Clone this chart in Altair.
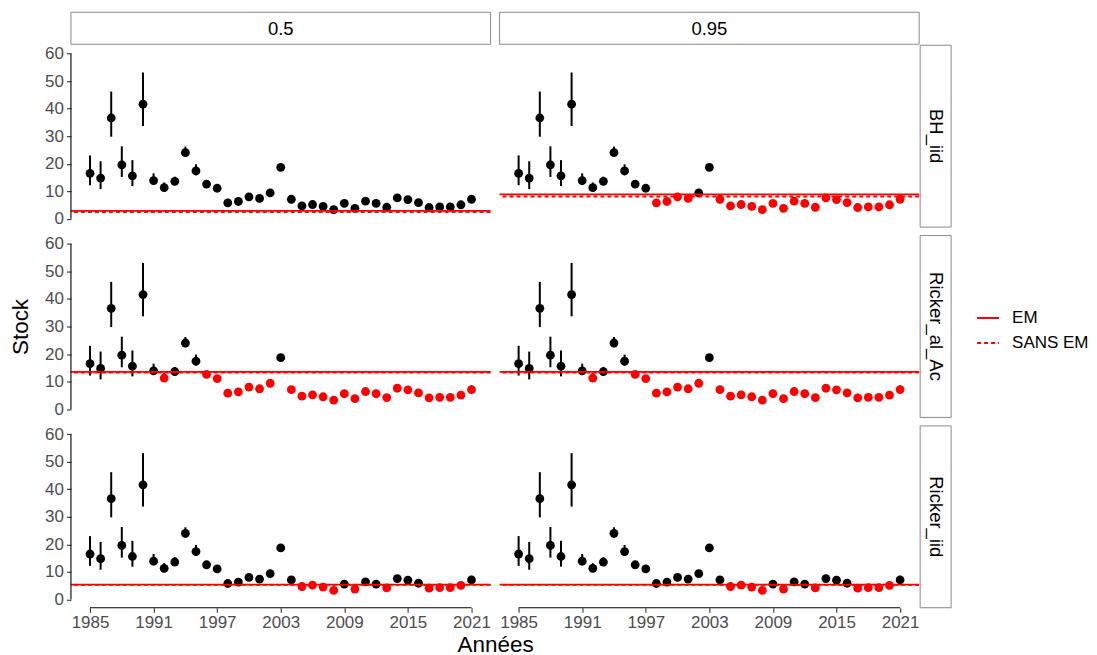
import altair as alt
import pandas as pd

# ---- data ----
years = list(range(1985, 2022))
stock = [16.5, 14.8, 36.6, 19.6, 15.6, 41.6, 13.9, 11.3, 13.6, 24.0, 17.4, 12.6, 11.1,
         5.8, 6.3, 8.0, 7.4, 9.4, 18.7, 7.1, 4.7, 5.2, 4.5, 3.3, 5.6, 3.8, 6.4, 5.6,
         4.2, 7.6, 7.0, 5.9, 4.1, 4.3, 4.3, 5.1, 7.1]
lower = [12.2, 10.8, 29.8, 15.2, 11.9, 33.7, 12.4, 9.9, 12.2, 22.5, 15.8, 11.5, 10.3,
         5.2, 5.7, 7.3, 6.8, 8.7, 18.0, 6.5, 4.2, 4.6, 4.0, 2.8, 5.0, 3.3, 5.8, 5.0,
         3.7, 6.9, 6.4, 5.3, 3.6, 3.8, 3.8, 4.5, 6.1]
upper = [23.0, 20.9, 46.2, 26.3, 21.3, 53.1, 16.5, 13.2, 15.3, 26.2, 19.8, 13.4, 11.9,
         6.4, 6.9, 8.7, 8.0, 10.1, 19.4, 7.7, 5.2, 5.8, 5.0, 3.8, 6.2, 4.3, 7.0, 6.2,
         4.7, 8.3, 7.6, 6.5, 4.6, 4.8, 4.8, 5.7, 8.6]

row_labels = ["BH_iid", "Ricker_al_Ac", "Ricker_iid"]
col_labels = ["0.5", "0.95"]
em_values = {"BH_iid": [2.9, 8.9], "Ricker_al_Ac": [13.5, 13.5], "Ricker_iid": [5.4, 5.4]}
sans_em_values = {"BH_iid": [2.4, 8.1], "Ricker_al_Ac": [13.3, 13.3], "Ricker_iid": [5.3, 5.3]}
line_types = ["EM", "SANS EM"]
x_ticks = [1985, 1991, 1997, 2003, 2009, 2015, 2021]
y_ticks = [0, 10, 20, 30, 40, 50, 60]

# ---- styling ----
W, H = 420, 182
FONT = "Liberation Sans"
GREY = "#4d4d4d"
STRIP = "#8a8a8a"
LAB = 17
TIT = 22.5
STRIP_FS = 18.5

xscale = alt.Scale(domain=[1983.2, 2022.8], nice=False, zero=False)
yscale = alt.Scale(domain=[-3, 63], nice=False, zero=False)

legend = alt.Legend(title=None, orient="none", legendX=906, legendY=261,
                    symbolType="stroke", symbolStrokeColor="red", symbolStrokeWidth=2,
                    symbolSize=484, labelFontSize=17, labelFont=FONT, labelColor="black",
                    rowPadding=5, labelOffset=12)


def x_axis(show, with_title):
    if not show:
        return None
    kw = dict(values=x_ticks, format="d", domain=False, grid=False, tickSize=4.5,
              tickColor="#333333", tickWidth=1.1, labelColor=GREY, labelFontSize=LAB,
              labelFont=FONT, labelPadding=2, labelFlush=False)
    if with_title:
        kw.update(title="Années", titleFontSize=TIT, titleFont=FONT, titleFontWeight="normal",
                  titleColor="black", titleX=W + 4.5, titlePadding=3)
    else:
        kw.update(title="")
    return alt.Axis(**kw)


def y_axis(show, with_title):
    if not show:
        return None
    kw = dict(values=y_ticks, domain=False, grid=False, tickSize=4.5, tickColor="#333333",
              tickWidth=1.1, labelColor=GREY, labelFontSize=LAB, labelFont=FONT,
              labelPadding=3)
    if with_title:
        kw.update(title="Stock", titleFontSize=TIT, titleFont=FONT, titleFontWeight="normal",
                  titleColor="black", titlePadding=12)
    else:
        kw.update(title="")
    return alt.Axis(**kw)


def panel(ri, ci):
    r = row_labels[ri]
    show_y = ci == 0
    show_x = ri == 2
    thr = em_values[r][ci]
    thr2 = sans_em_values[r][ci]
    df = pd.DataFrame({"year": years, "stock": stock, "lower": lower, "upper": upper})
    df["statut"] = ["sous" if v < thr else "sur" for v in stock]
    lines = pd.DataFrame({"type": line_types, "value": [thr, thr2]})
    xa = x_axis(show_x, ci == 0)
    ya = y_axis(show_y, ri == 1)
    X = lambda f: alt.X(f, scale=xscale, axis=xa)
    Y = lambda f: alt.Y(f, scale=yscale, axis=ya)

    base = alt.Chart(df)
    err = base.mark_rule(color="black", strokeWidth=2).encode(
        x=X("year:Q"), y=Y("lower:Q"), y2="upper:Q")
    pts = base.mark_circle(size=78, opacity=1).encode(
        x=X("year:Q"), y=Y("stock:Q"),
        color=alt.Color("statut:N", scale=alt.Scale(domain=["sur", "sous"], range=["black", "red"]),
                        legend=None))
    hl = alt.Chart(lines).mark_rule(color="red", strokeWidth=1.8).encode(
        y=Y("value:Q"),
        strokeDash=alt.StrokeDash("type:N", scale=alt.Scale(domain=line_types, range=[[1, 0], [4, 3]]),
                                  legend=legend))
    layers = [err, pts, hl]
    if show_y:
        ax = alt.Chart(pd.DataFrame({"a": [0], "b": [60]})).mark_rule(
            color="black", strokeWidth=1.1).encode(x=alt.value(0), y=Y("a:Q"), y2="b:Q")
        layers.append(ax)
    if show_x:
        ax2 = alt.Chart(pd.DataFrame({"a": [1985], "b": [2021]})).mark_rule(
            color="black", strokeWidth=1.1).encode(y=alt.value(H), x=X("a:Q"), x2="b:Q")
        layers.append(ax2)
    if ri == 0:
        lab = pd.DataFrame({"label": [col_labels[ci]]})
        box = alt.Chart(lab).mark_rect(fill="white", stroke=STRIP, strokeWidth=1, cornerRadius=0).encode(
            x=alt.value(0), x2=alt.value(W), y=alt.value(-33), y2=alt.value(-1))
        txt = alt.Chart(lab).mark_text(fontSize=STRIP_FS, font=FONT, color="black",
                                       align="center", baseline="middle").encode(
            x=alt.value(W / 2), y=alt.value(-16.5), text="label:N")
        layers += [box, txt]
    if ci == 1:
        lab = pd.DataFrame({"label": [r]})
        box = alt.Chart(lab).mark_rect(fill="white", stroke=STRIP, strokeWidth=1, cornerRadius=0).encode(
            x=alt.value(W + 1), x2=alt.value(W + 32), y=alt.value(0), y2=alt.value(H))
        txt = alt.Chart(lab).mark_text(fontSize=STRIP_FS, font=FONT, color="black",
                                       align="center", baseline="middle", angle=90).encode(
            x=alt.value(W + 16.5), y=alt.value(H / 2), text="label:N")
        layers += [box, txt]
    return alt.layer(*layers).properties(width=W, height=H)


panels = [panel(ri, ci) for ri in range(3) for ci in range(2)]

chart = alt.concat(*panels, columns=2, spacing={"row": 8.5, "column": 9}, bounds="flush").properties(
    padding={"left": 1, "top": 3, "right": 0, "bottom": 0}
).configure(font=FONT).configure_view(strokeWidth=0, stroke="transparent")

chart.save("out.html", embed_options={"renderer": "svg", "actions": False})
